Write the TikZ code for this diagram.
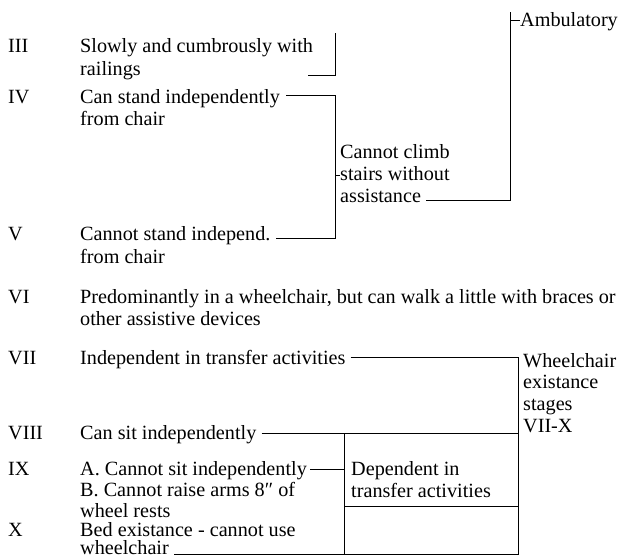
\documentclass[tikz,border=0pt]{standalone}
\usepackage{fontspec}
\setmainfont{Liberation Serif}
\begin{document}
\begin{tikzpicture}[x=1pt,y=-1pt,
  lab/.style={anchor=base west, inner sep=0pt, font=\fontsize{20.2}{23}\selectfont},
  ln/.style={line width=0.9pt}]
\useasboundingbox (0,0) rectangle (623,557);
% left column
\node[lab] (r3) at (8,52) {III};
\node[lab] (t3a) at (80,52) {Slowly and cumbrously with};
\node[lab] (t3b) at (80,75) {railings};
\node[lab] (r4) at (8,103) {IV};
\node[lab] (t4a) at (80,103) {Can stand independently};
\node[lab] (t4b) at (80,125) {from chair};
\node[lab] (r5) at (8,240) {V};
\node[lab] (t5a) at (80,240) {Cannot stand independ.};
\node[lab] (t5b) at (80,263) {from chair};
\node[lab] (r6) at (8,303) {VI};
\node[lab] (t6a) at (80,303) {Predominantly in a wheelchair, but can walk a little with braces or};
\node[lab] (t6b) at (80,325) {other assistive devices};
\node[lab] (r7) at (8,364) {VII};
\node[lab] (t7) at (80,364) {Independent in transfer activities};
\node[lab] (r8) at (8,439) {VIII};
\node[lab] (t8) at (80,439) {Can sit independently};
\node[lab] (r9) at (8,475) {IX};
\node[lab] (t9a) at (80,475) {A. Cannot sit independently};
\node[lab] (t9b) at (80,496) {B. Cannot raise arms 8″ of};
\node[lab] (t9c) at (80,517) {wheel rests};
\node[lab] (r10) at (8,536) {X};
\node[lab] (t10a) at (80,536) {Bed existance - cannot use};
\node[lab] (t10b) at (80,554.5) {wheelchair};
% right labels
\node[lab] (amb) at (520,26) {Ambulatory};
\node[lab] (c1) at (340,158) {Cannot climb};
\node[lab] (c2) at (340,180) {stairs without};
\node[lab] (c3) at (340,202) {assistance};
\node[lab] (w1) at (523,367) {Wheelchair};
\node[lab] (w2) at (523,388) {existance};
\node[lab] (w3) at (523,410) {stages};
\node[lab] (w4) at (523,432) {VII-X};
\node[lab] (d1) at (351,475) {Dependent in};
\node[lab] (d2) at (351,497) {transfer activities};
% coordinates
\coordinate (a1) at (510,12);
\coordinate (a2) at (510,200);
\coordinate (ab) at (510,20);
\coordinate (as1) at ([xshift=5pt]c3.base east);
\coordinate (b3t) at (335,33);
\coordinate (b3b) at (335,75);
\coordinate (b3l) at (308,75);
\coordinate (b4t) at (335,95);
\coordinate (b4tl) at ([shift={(6,-13)}]t4a.base east);
\coordinate (b4b) at (335,238);
\coordinate (b4bl) at ([shift={(5,-2)}]t5a.base east);
\coordinate (b4m) at (335,175);
\coordinate (v7l) at ([shift={(5,-6)}]t7.base east);
\coordinate (v7r) at (518,357);
\coordinate (v7b) at (518,554.5);
\coordinate (v8l) at ([shift={(5,-6)}]t8.base east);
\coordinate (v8r) at (518,433);
\coordinate (bxt) at (344,433);
\coordinate (bxb) at (344,554.5);
\coordinate (bxm) at (344,506);
\coordinate (bxmr) at (518,506);
\coordinate (x9l) at ([shift={(3,-6)}]t9a.base east);
\coordinate (x10l) at ([xshift=5pt]t10b.base east);
% lines
\draw[ln] (a1) -- (a2) -- (as1 |- a2);
\draw[ln] (ab) -- (amb.west |- ab);
\draw[ln] (b3t) -- (b3b) -- (b3l);
\draw[ln] (b4tl |- b4t) -- (b4t) -- (b4b) -- (b4bl |- b4b);
\draw[ln] (b4m) -- (c2.west |- b4m);
\draw[ln] (v7l |- v7r) -- (v7r) -- (v7b);
\draw[ln] (v8l |- v8r) -- (v8r);
\draw[ln] (bxt) -- (bxb);
\draw[ln] (bxm) -- (bxmr);
\draw[ln] (x9l) -- (bxt |- x9l);
\draw[ln] (x10l |- v7b) -- (v7b);
\end{tikzpicture}
\end{document}
